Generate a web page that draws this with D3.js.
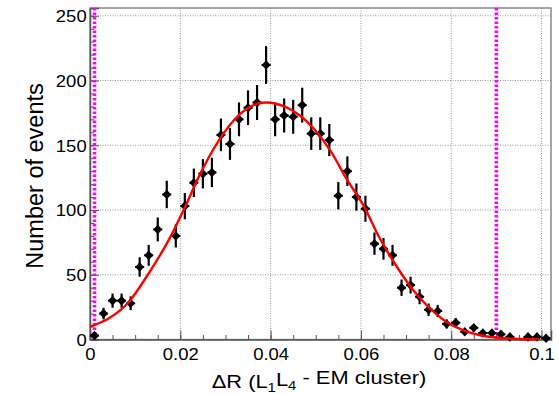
<!DOCTYPE html>
<html>
<head>
<meta charset="utf-8">
<script src="https://cdn.jsdelivr.net/npm/d3@7"></script>
<style>
body { margin: 0; background: #fff; }
text { font-family: "Liberation Sans", Arial, Helvetica, sans-serif; fill: #000; }
</style>
</head>
<body>
<svg width="558" height="394"></svg>
<script>
// histogram bins (centres) and counts
var binX = [0.001, 0.003, 0.005, 0.007, 0.009, 0.011, 0.013, 0.015, 0.017, 0.019,
            0.021, 0.023, 0.025, 0.027, 0.029, 0.031, 0.033, 0.035, 0.037, 0.039,
            0.041, 0.043, 0.045, 0.047, 0.049, 0.051, 0.053, 0.055, 0.057, 0.059,
            0.061, 0.063, 0.065, 0.067, 0.069, 0.071, 0.073, 0.075, 0.077, 0.079,
            0.081, 0.083, 0.085, 0.087, 0.089, 0.091, 0.093, 0.095, 0.097, 0.099, 0.101];
var counts = [3, 20, 30, 30, 28, 56, 65, 85, 112, 80,
              103, 121, 128, 129, 158, 151, 170, 179, 183, 212,
              170, 173, 172, 181, 159, 159, 154, 111, 130, 110,
              101, 74, 70, 65, 40, 42, 33, 23, 22, 12,
              13, 6, 9, 5, 5, 4, 2, 0, 2, 2, 1];
var binWidth = 0.002;

// fitted curve
var fitX = [0, 0.004, 0.0086, 0.0128, 0.0173, 0.021, 0.024, 0.0284, 0.0332, 0.037,
            0.0391, 0.043, 0.0465, 0.050, 0.0532, 0.057, 0.0605, 0.0642, 0.068, 0.0716,
            0.0753, 0.079, 0.0827, 0.0864, 0.09, 0.0937, 0.0995];
var fitY = [10, 16, 29, 50, 76, 102, 125, 153, 174, 182,
            183, 180, 173, 161, 146, 123, 104, 78, 56, 38,
            24, 13.5, 7, 3.3, 1.5, 0.6, 0.1];

var xTicks = [0, 0.02, 0.04, 0.06, 0.08, 0.1];
var xTickLabels = ["0", "0.02", "0.04", "0.06", "0.08", "0.1"];
var yTicks = [0, 50, 100, 150, 200, 250];
var cutX = [0.001, 0.09];

var svg = d3.select("svg"),
    margin = {left: 90, top: 8, right: 7, bottom: 54.5},
    width = 558 - margin.left - margin.right,
    height = 394 - margin.top - margin.bottom;

var x = d3.scaleLinear().domain([0, 0.1021]).range([0, width]);
var y = d3.scaleLinear().domain([0, 256]).range([height, 0]);

var g = svg.append("g").attr("transform", "translate(" + margin.left + "," + margin.top + ")");

// grid
g.append("g").selectAll("line").data(xTicks.slice(1)).enter().append("line")
    .attr("x1", d => x(d)).attr("x2", d => x(d))
    .attr("y1", 0).attr("y2", height)
    .attr("stroke", "#999").attr("stroke-width", 1).attr("stroke-dasharray", "1,1.5");
g.append("g").selectAll("line").data(yTicks.slice(1)).enter().append("line")
    .attr("x1", 0).attr("x2", width)
    .attr("y1", d => y(d)).attr("y2", d => y(d))
    .attr("stroke", "#999").attr("stroke-width", 1).attr("stroke-dasharray", "1,1.5");

// frame
g.append("rect").attr("x", 0).attr("y", 0).attr("width", width).attr("height", height)
    .attr("fill", "none").attr("stroke", "#777").attr("stroke-width", 1.3);

// axes: minor ticks, then major ticks with labels
g.append("g").attr("transform", "translate(0," + height + ")")
    .call(d3.axisBottom(x).tickValues(d3.range(0, 0.1021, 0.005)).tickSize(-4.5).tickFormat(""))
    .call(a => a.select(".domain").remove())
    .selectAll("line").attr("stroke", "#555");
var xAxis = g.append("g").attr("transform", "translate(0," + height + ")")
    .call(d3.axisBottom(x).tickValues(xTicks).tickSize(-9).tickPadding(9)
        .tickFormat((d, i) => xTickLabels[i]));
xAxis.select(".domain").attr("stroke", "#555").attr("stroke-width", 1.5);
xAxis.selectAll("line").attr("stroke", "#555");
xAxis.selectAll("text").style("font-size", "16.5px").attr("dy", "0.71em")
    .attr("transform", "scale(1.12,1)");

g.append("g")
    .call(d3.axisLeft(y).tickValues(d3.range(0, 256, 10)).tickSize(-4.5).tickFormat(""))
    .call(a => a.select(".domain").remove())
    .selectAll("line").attr("stroke", "#555");
var yAxis = g.append("g")
    .call(d3.axisLeft(y).tickValues(yTicks).tickSize(-9).tickPadding(3));
yAxis.select(".domain").attr("stroke", "#555").attr("stroke-width", 1.5);
yAxis.selectAll("line").attr("stroke", "#555");
yAxis.selectAll("text").style("font-size", "16.5px").attr("dy", "0.36em")
    .attr("transform", "scale(1.12,1)");

// cut lines
g.append("g").selectAll("line").data(cutX).enter().append("line")
    .attr("x1", d => x(d)).attr("x2", d => x(d))
    .attr("y1", 0).attr("y2", height)
    .attr("stroke", "#ff00ff").attr("stroke-width", 3.6).attr("stroke-dasharray", "2.5,2");

// data points with error bars
var pts = g.append("g").selectAll("g.pt")
    .data(binX.map((d, i) => ({x: d, n: counts[i]})).filter(d => d.n > 0))
    .enter().append("g").attr("class", "pt");
pts.append("line")
    .attr("x1", d => x(d.x)).attr("x2", d => x(d.x))
    .attr("y1", d => y(d.n + Math.sqrt(d.n))).attr("y2", d => y(Math.max(0, d.n - Math.sqrt(d.n))))
    .attr("stroke", "#000").attr("stroke-width", 2.2);
pts.append("line")
    .attr("x1", d => x(d.x - binWidth / 2)).attr("x2", d => x(d.x + binWidth / 2))
    .attr("y1", d => y(d.n)).attr("y2", d => y(d.n))
    .attr("stroke", "#000").attr("stroke-width", 2);
pts.append("path")
    .attr("d", d => {
        var cx = x(d.x), cy = y(d.n);
        return "M" + (cx - 4.5) + "," + cy + "L" + cx + "," + (cy - 4.8) +
               "L" + (cx + 4.5) + "," + cy + "L" + cx + "," + (cy + 4.8) + "Z";
    })
    .attr("fill", "#000");

// fit
var line = d3.line().x(d => x(d[0])).y(d => y(d[1])).curve(d3.curveMonotoneX);
g.append("path").datum(fitX.map((d, i) => [d, fitY[i]]))
    .attr("d", line).attr("fill", "none").attr("stroke", "#ff0000").attr("stroke-width", 2.4);

// titles
var xt = svg.append("text")
    .attr("transform", "translate(319,388) scale(1.15,1)")
    .attr("text-anchor", "middle").style("font-size", "19px");
xt.append("tspan").text("\u0394R (L");
xt.append("tspan").attr("dy", "0.3em").style("font-size", "13px").text("1");
xt.append("tspan").attr("dy", "-0.3em").text("L");
xt.append("tspan").attr("dy", "0.3em").style("font-size", "13px").text("4");
xt.append("tspan").attr("dy", "-0.3em").text(" - EM cluster)");

svg.append("text")
    .attr("transform", "translate(43,176) rotate(-90)")
    .attr("text-anchor", "middle").style("font-size", "23.5px")
    .text("Number of events");
</script>
</body>
</html>
